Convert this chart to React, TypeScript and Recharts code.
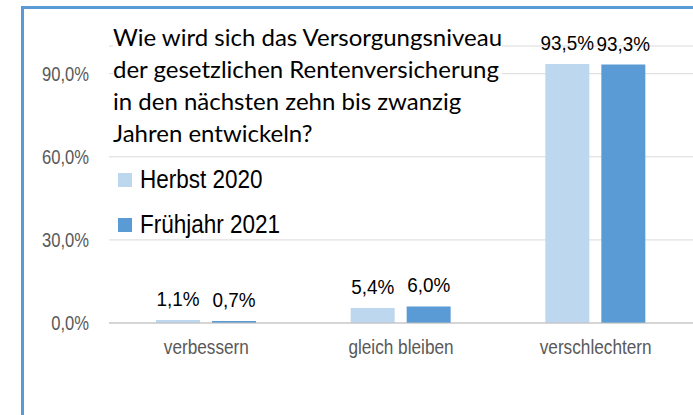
import React from 'react';
import { BarChart, Bar, XAxis, YAxis, CartesianGrid, Legend, LabelList } from 'recharts';

const categories = ['verbessern', 'gleich bleiben', 'verschlechtern'];
const herbst2020 = [1.1, 5.4, 93.5];
const fruehjahr2021 = [0.7, 6.0, 93.3];
const yTicks = [0, 30, 60, 90];

const seriesNames = ['Herbst 2020', 'Frühjahr 2021'];
const seriesColors = ['#bdd7ee', '#5b9bd5'];

const titleLines = [
    'Wie wird sich das Versorgungsniveau',
    'der gesetzlichen Rentenversicherung',
    'in den nächsten zehn bis zwanzig',
    'Jahren entwickeln?',
];

const data = categories.map((name, i) => ({
    name,
    herbst: herbst2020[i],
    fruehjahr: fruehjahr2021[i],
}));

// no Arial Narrow here, so squeeze Liberation Sans horizontally
const sans = "'Liberation Sans', Arial, sans-serif";

const fmt = (v: number) => v.toFixed(1).replace('.', ',') + '%';

const YTick = ({ x, y, payload }: any) => (
    <text
        transform={`translate(${x},${y}) scale(0.83,1)`}
        textAnchor="end"
        dominantBaseline="central"
        fill="#595959"
        fontSize={20}
        fontFamily={sans}
    >
        {fmt(payload.value)}
    </text>
);

const XTick = ({ x, y, payload }: any) => (
    <text
        transform={`translate(${x},${y + 25}) scale(0.82,1)`}
        textAnchor="middle"
        fill="#595959"
        fontSize={21}
        fontFamily={sans}
    >
        {payload.value}
    </text>
);

const ValueLabel = ({ x, y, width, value }: any) => (
    <text
        transform={`translate(${x + width / 2},${y - 14}) scale(0.9,1)`}
        textAnchor="middle"
        fill="#000"
        fontSize={21}
        fontFamily={sans}
    >
        {fmt(value)}
    </text>
);

const LegendBox = () => (
    <div style={{ fontFamily: sans, fontSize: 25, color: '#000' }}>
        {seriesNames.map((n, i) => (
            <div key={n} style={{ display: 'flex', alignItems: 'center', height: 45 }}>
                <div style={{ width: 14, height: 14, background: seriesColors[i], marginRight: 8 }} />
                <span style={{ display: 'inline-block', transform: 'scaleX(0.9)', transformOrigin: 'left center', whiteSpace: 'nowrap' }}>{n}</span>
            </div>
        ))}
    </div>
);

const App: React.FC = () => {
    return (
        <div style={{ position: 'absolute', left: 0, top: 0, width: 693, height: 415, overflow: 'hidden', background: '#fff' }}>
            <div style={{ position: 'absolute', left: 21, top: 6, width: 700, height: 420, borderTop: '3px solid #5b9bd5', borderLeft: '3px solid #5b9bd5' }} />
            <BarChart
                width={693}
                height={415}
                data={data}
                margin={{ top: 46, right: 0, bottom: 62, left: 0 }}
                barSize={44}
                barGap={12}
                style={{ position: 'absolute', left: 0, top: 0 }}
            >
                <CartesianGrid vertical={false} stroke="#d9d9d9" />
                <XAxis
                    dataKey="name"
                    height={30}
                    axisLine={{ stroke: '#bfbfbf' }}
                    tickLine={false}
                    tickMargin={0}
                    tick={<XTick />}
                />
                <YAxis
                    width={109}
                    domain={[0, 100]}
                    ticks={yTicks}
                    axisLine={false}
                    tickLine={false}
                    tickMargin={14}
                    tick={<YTick />}
                />
                <Legend
                    layout="vertical"
                    verticalAlign="middle"
                    align="center"
                    content={() => <LegendBox />}
                    wrapperStyle={{ left: 118, top: 157, width: 250 }}
                />
                <Bar dataKey="herbst" name={seriesNames[0]} fill={seriesColors[0]} isAnimationActive={false}>
                    <LabelList dataKey="herbst" content={<ValueLabel />} />
                </Bar>
                <Bar dataKey="fruehjahr" name={seriesNames[1]} fill={seriesColors[1]} isAnimationActive={false}>
                    <LabelList dataKey="fruehjahr" content={<ValueLabel />} />
                </Bar>
            </BarChart>
            <div
                style={{
                    position: 'absolute',
                    left: 113,
                    top: 21,
                    background: '#fff',
                    fontFamily: 'Lato, sans-serif',
                    fontSize: 24,
                    lineHeight: '32px',
                    color: '#000',
                    whiteSpace: 'nowrap',
                }}
            >
                {titleLines.map((l) => (
                    <div key={l}>{l}</div>
                ))}
            </div>
        </div>
    );
};

export default App;
